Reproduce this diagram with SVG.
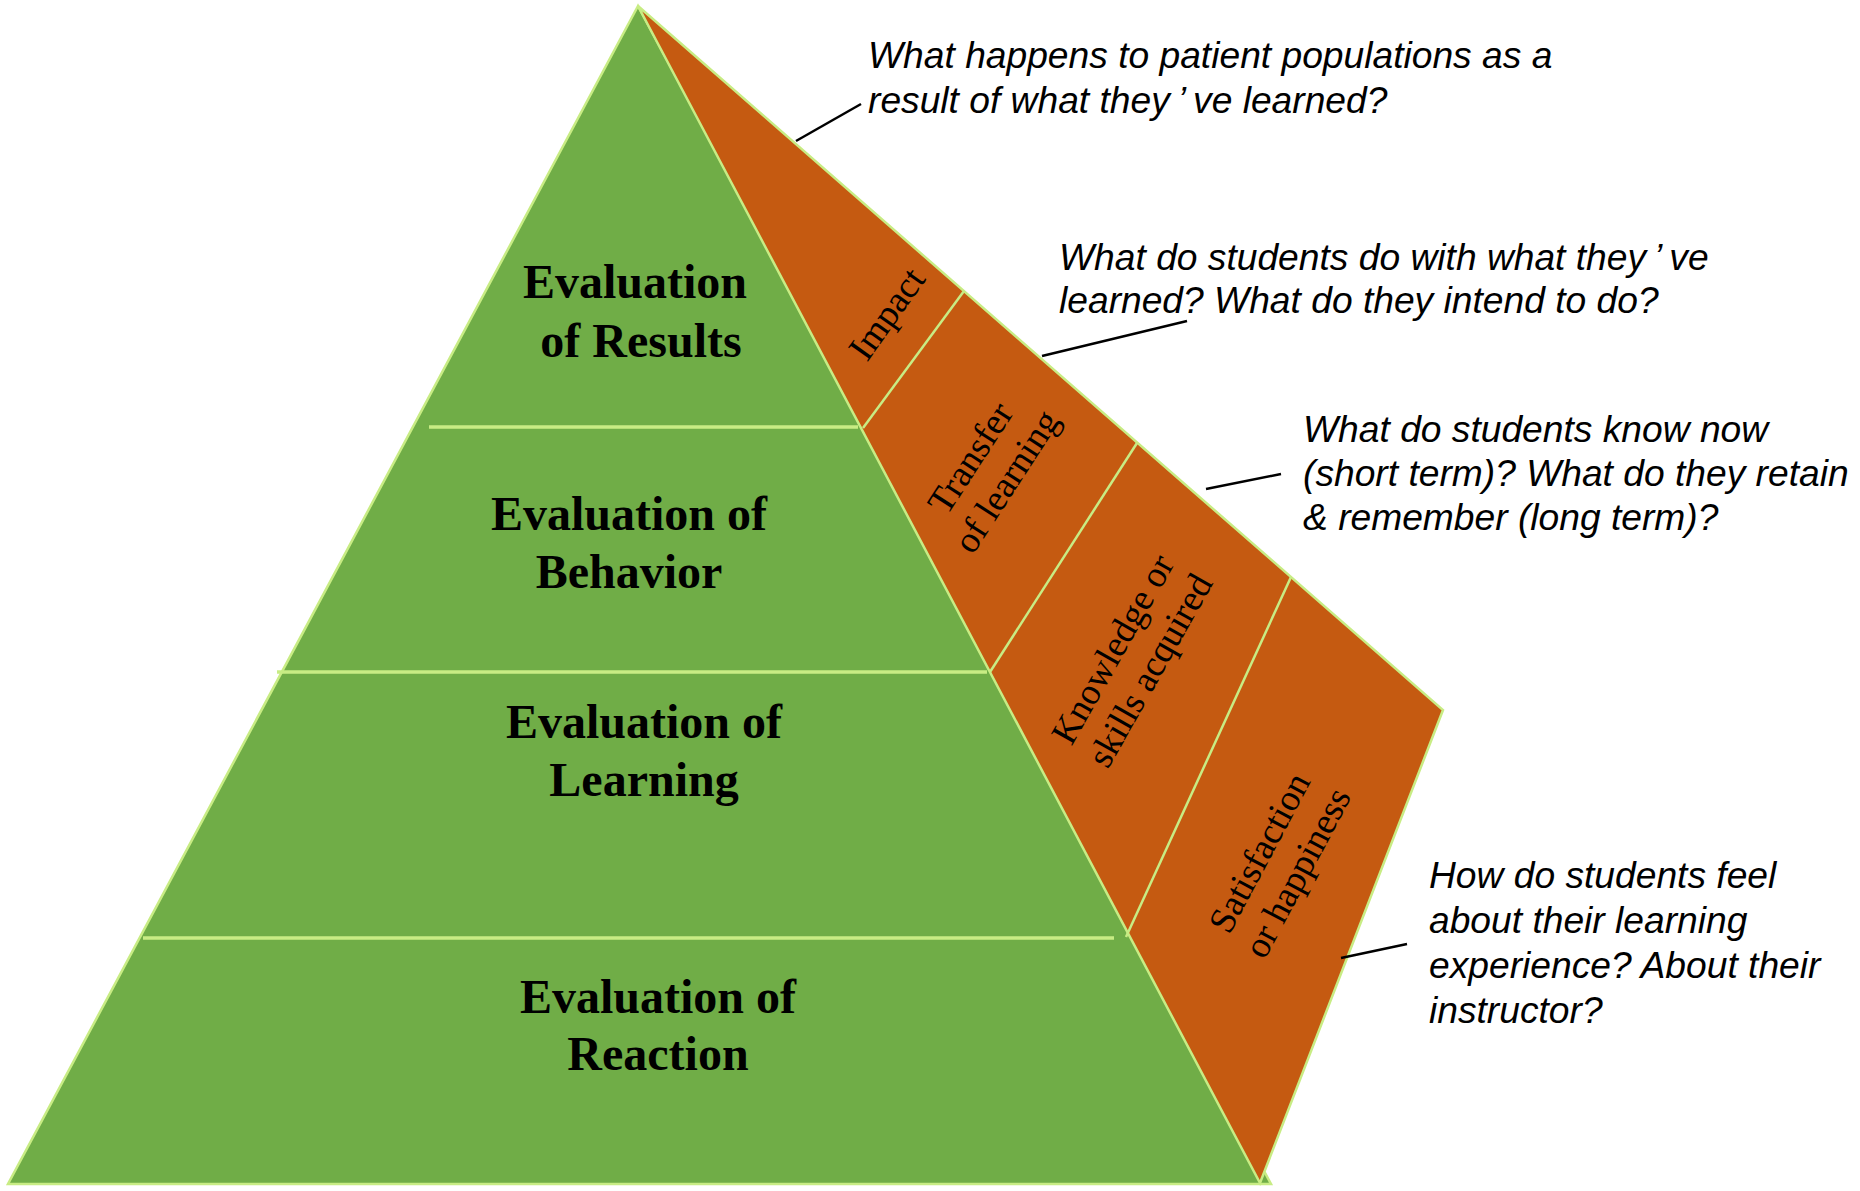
<svg xmlns="http://www.w3.org/2000/svg" width="1860" height="1191" viewBox="0 0 1860 1191">
  <style>
    .green { fill: #70AD47; stroke: #C8EC84; stroke-width: 2.5; stroke-linejoin: miter; }
    .face { fill: #C55A11; stroke: #C8EC84; stroke-width: 2.5; stroke-linejoin: miter; }
    .tier-line { stroke: #C8EC84; stroke-width: 3.5; fill: none; }
    .seg-line { stroke: #C8EC84; stroke-width: 2.5; fill: none; }
    .tier { font-family: "Liberation Serif", "Times New Roman", serif; font-weight: bold; font-size: 48px; fill: #000; text-anchor: middle; }
    .seg { font-family: "Liberation Serif", "Times New Roman", serif; font-size: 37px; fill: #000; text-anchor: middle; }
    .note { font-family: "Liberation Sans", Arial, sans-serif; font-style: italic; font-size: 37.2px; fill: #000; }
    .leader { stroke: #000; stroke-width: 2.5; fill: none; }
  </style>

  <!-- pyramid front: four evaluation tiers -->
  <g id="pyramid-front">
    <polygon class="green" points="638,6 8,1184 1271,1184"/>
  </g>

  <!-- pyramid side face -->
  <g id="pyramid-side">
    <polygon class="face" points="638,6 1443,710 1260,1183"/>
  </g>

  <!-- tier separators -->
  <g id="tier-separators">
    <line class="tier-line" x1="429" y1="427" x2="858" y2="427"/>
    <line class="tier-line" x1="277" y1="672" x2="987" y2="672"/>
    <line class="tier-line" x1="143" y1="938" x2="1114" y2="938"/>
  </g>

  <!-- side face separators -->
  <g id="face-separators">
    <line class="seg-line" x1="964" y1="291" x2="863" y2="428"/>
    <line class="seg-line" x1="1137" y1="443" x2="990" y2="672"/>
    <line class="seg-line" x1="1291" y1="577" x2="1126" y2="937"/>
  </g>

  <!-- tier labels -->
  <g id="tier-results">
    <text class="tier" x="635" y="298">Evaluation</text>
    <text class="tier" x="641" y="357">of Results</text>
  </g>
  <g id="tier-behavior">
    <text class="tier" x="629" y="530">Evaluation of</text>
    <text class="tier" x="629" y="588">Behavior</text>
  </g>
  <g id="tier-learning">
    <text class="tier" x="644" y="738">Evaluation of</text>
    <text class="tier" x="644" y="796">Learning</text>
  </g>
  <g id="tier-reaction">
    <text class="tier" x="658" y="1013">Evaluation of</text>
    <text class="tier" x="658" y="1070">Reaction</text>
  </g>

  <!-- side face labels -->
  <g id="seg-impact" transform="translate(887,314) rotate(-54.5)">
    <text class="seg" x="0" y="12">Impact</text>
  </g>
  <g id="seg-transfer" transform="translate(989,470) rotate(-57)">
    <text class="seg" x="0" y="-10">Transfer</text>
    <text class="seg" x="0" y="33">of learning</text>
  </g>
  <g id="seg-knowledge" transform="translate(1132,660) rotate(-60.5)">
    <text class="seg" x="0" y="-10">Knowledge or</text>
    <text class="seg" x="0" y="33">skills acquired</text>
  </g>
  <g id="seg-satisfaction" transform="translate(1279,863) rotate(-62)">
    <text class="seg" x="0" y="-10">Satisfaction</text>
    <text class="seg" x="0" y="33">or happiness</text>
  </g>

  <!-- question callouts -->
  <g id="note-impact">
    <text class="note" x="868" y="68">What happens to patient populations as a</text>
    <text class="note" x="868" y="113">result of what they<tspan dx="8">’</tspan><tspan dx="7">ve learned?</tspan></text>
  </g>
  <g id="note-transfer">
    <text class="note" x="1059" y="270">What do students do with what they<tspan dx="8">’</tspan><tspan dx="7">ve</tspan></text>
    <text class="note" x="1059" y="313">learned? What do they intend to do?</text>
  </g>
  <g id="note-knowledge">
    <text class="note" x="1303" y="442">What do students know now</text>
    <text class="note" x="1303" y="486">(short term)? What do they retain</text>
    <text class="note" x="1303" y="530">&amp; remember (long term)?</text>
  </g>
  <g id="note-satisfaction">
    <text class="note" x="1429" y="888">How do students feel</text>
    <text class="note" x="1429" y="933">about their learning</text>
    <text class="note" x="1429" y="978">experience? About their</text>
    <text class="note" x="1429" y="1023">instructor?</text>
  </g>

  <!-- leader lines -->
  <g id="connectors">
    <line class="leader" x1="796" y1="141" x2="861" y2="104"/>
    <line class="leader" x1="1042" y1="356" x2="1187" y2="321"/>
    <line class="leader" x1="1206" y1="489" x2="1281" y2="474"/>
    <line class="leader" x1="1341" y1="958" x2="1407" y2="944"/>
  </g>
</svg>
